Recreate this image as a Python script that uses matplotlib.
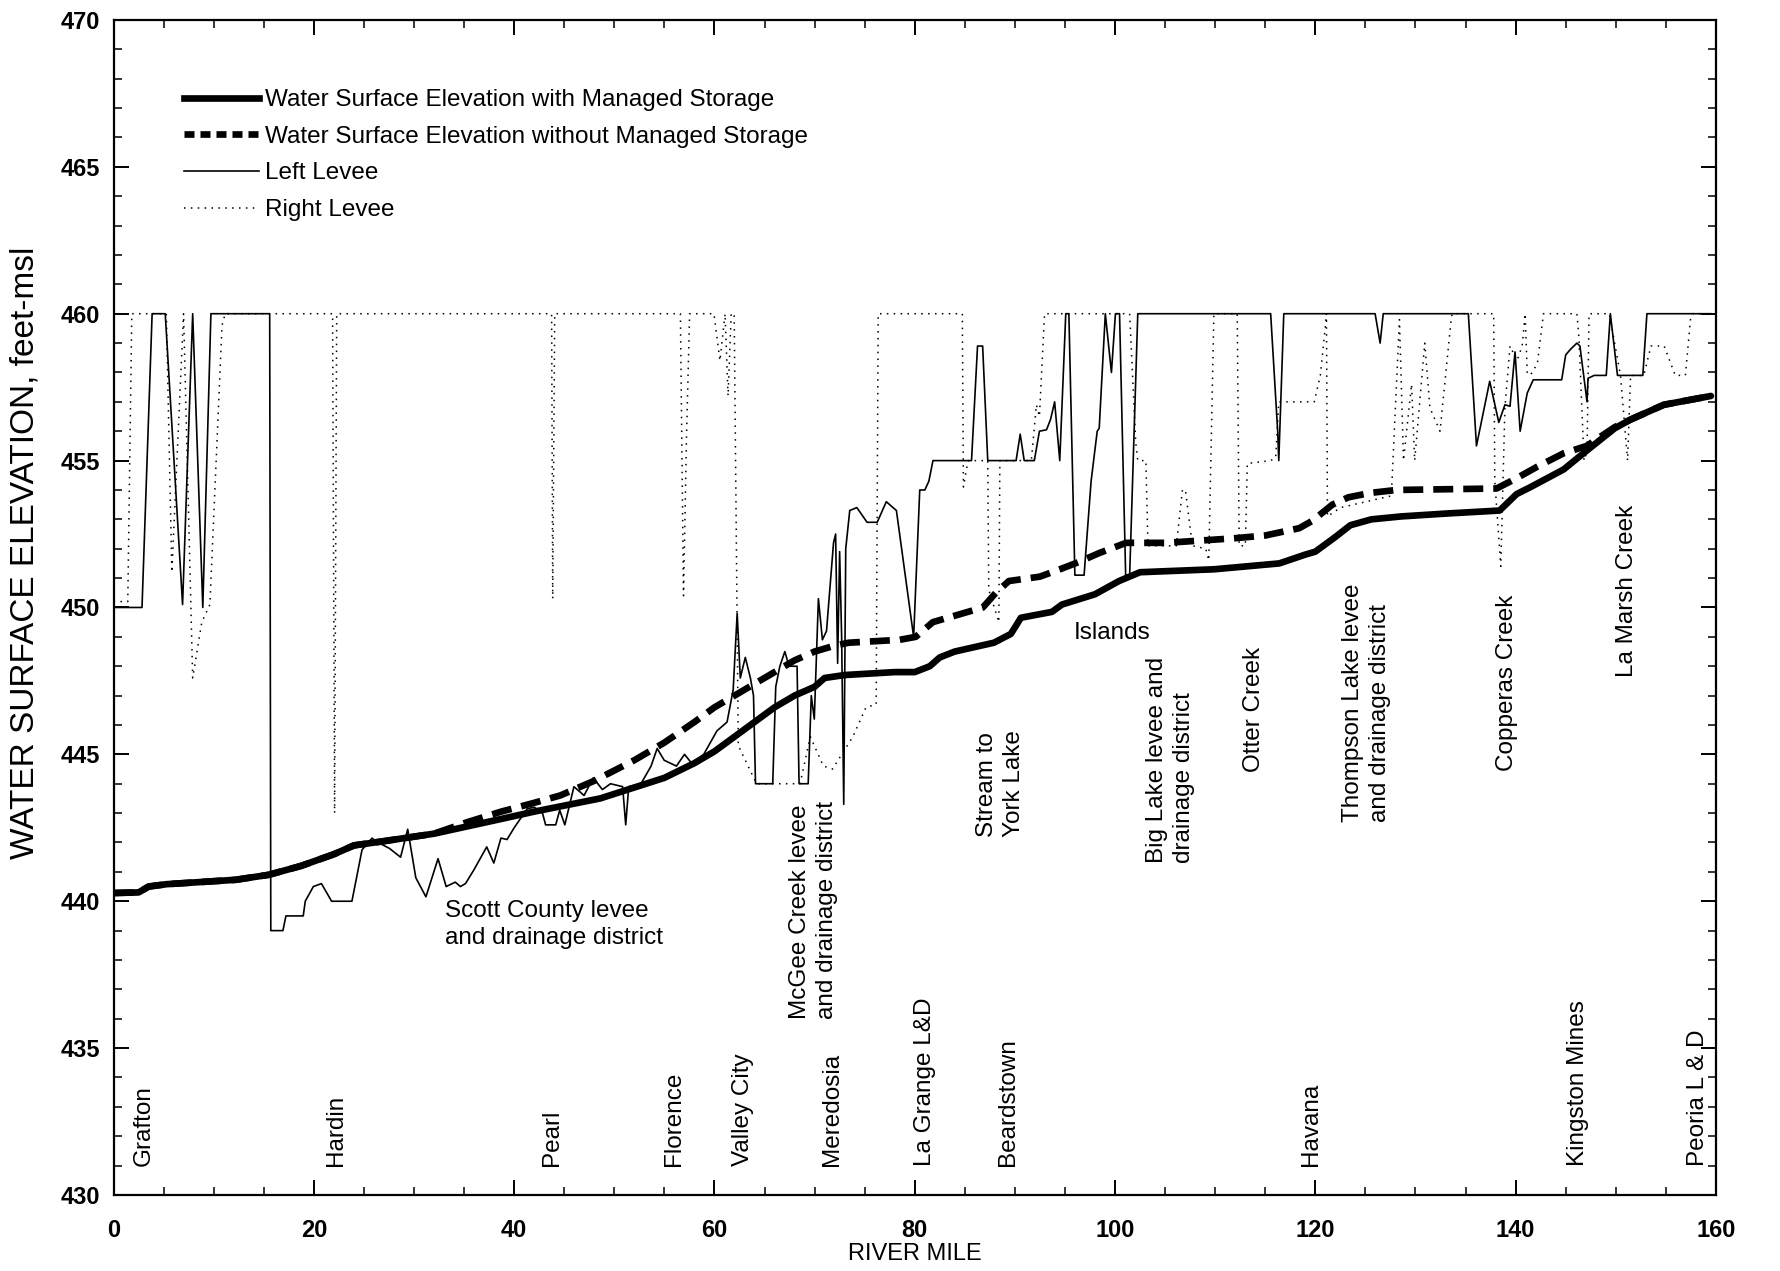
import matplotlib
matplotlib.use("Agg")
import matplotlib.pyplot as plt
from matplotlib.ticker import MultipleLocator
from matplotlib.lines import Line2D

plt.rcParams['font.family'] = ['Liberation Sans', 'DejaVu Sans']

# ---- water surface profiles (river mile, elevation ft-msl) ----
ws_with_mile = [0, 2.5, 3.5, 5.3, 12.2, 15.5, 18.7, 22.0, 24.0, 27.1, 32.0, 38.7, 42.0, 48.6,
                55.0, 58.0, 60.0, 62.0, 64.0, 66.0, 68.0, 70.0, 71.0, 73.0, 78.0, 80.0, 81.5,
                82.5, 84.0, 87.9, 89.6, 90.6, 93.7, 94.7, 98.0, 100.4, 102.5, 109.9, 116.4,
                119.0, 120.0, 122.0, 123.5, 125.6, 128.6, 133.2, 138.4, 140.1, 141.5, 144.8,
                147.1, 149.9, 151.5, 154.8, 159.5]
ws_with_elev = [440.28, 440.3, 440.5, 440.58, 440.73, 440.9, 441.2, 441.6, 441.9, 442.05,
                442.3, 442.8, 443.05, 443.5, 444.2, 444.7, 445.1, 445.6, 446.1, 446.6,
                447.0, 447.3, 447.6, 447.7, 447.8, 447.8, 448.0, 448.3, 448.5, 448.8,
                449.1, 449.65, 449.85, 450.1, 450.45, 450.9, 451.2, 451.3, 451.5, 451.8,
                451.9, 452.4, 452.8, 453.0, 453.1, 453.2, 453.3, 453.86, 454.1, 454.7,
                455.34, 456.1, 456.4, 456.9, 457.2]

ws_without_mile = [0, 2.5, 3.5, 5.3, 12.2, 15.5, 18.7, 22.0, 24.0, 27.1, 32.0, 35.4, 38.7,
                   42.0, 44.6, 48.0, 52.0, 55.0, 58.0, 60.0, 63.0, 66.0, 68.0, 70.0, 72.0,
                   73.4, 78.5, 80.1, 81.8, 83.8, 86.8, 88.1, 89.4, 92.5, 94.5, 96.4, 98.4,
                   101.1, 105.1, 111.7, 115.0, 118.4, 119.7, 121.7, 123.3, 125.5, 128.1,
                   138.1, 140.1, 142.2, 144.8, 147.1, 149.9, 151.5, 154.8, 159.5]
ws_without_elev = [440.28, 440.3, 440.5, 440.58, 440.73, 440.9, 441.2, 441.6, 441.9, 442.05,
                   442.3, 442.7, 443.05, 443.35, 443.6, 444.1, 444.8, 445.4, 446.1, 446.6,
                   447.2, 447.8, 448.2, 448.5, 448.7, 448.8, 448.9, 449.0, 449.5, 449.7,
                   450.0, 450.5, 450.9, 451.05, 451.3, 451.55, 451.85, 452.2, 452.2,
                   452.35, 452.45, 452.7, 452.95, 453.5, 453.75, 453.9, 454.0, 454.05,
                   454.4, 454.8, 455.25, 455.5, 456.14, 456.4, 456.9, 457.2]

# ---- levee crest profiles ----
left_levee_mile = [0, 2.84, 3.85, 5.16, 6.89, 7.9, 8.91, 9.72, 15.59, 15.7, 16.91, 17.21,
                   18.94, 19.14, 19.95, 20.76, 21.77, 23.8, 24.81, 25.82, 26.13, 27.54,
                   28.66, 29.37, 30.18, 31.19, 32.4, 33.21, 34.12, 34.63, 35.14, 35.95,
                   37.26, 37.97, 38.68, 39.29, 40.0, 40.71, 41.31, 42.02, 42.83, 43.14,
                   44.15, 44.55, 45.06, 45.97, 46.98, 47.9, 48.81, 49.62, 50.83, 51.14,
                   51.44, 52.66, 53.67, 54.28, 54.98, 56.2, 57.01, 57.72, 58.93, 60.25,
                   61.26, 61.87, 62.27, 62.58, 63.08, 63.59, 63.9, 64.1, 65.82, 66.12,
                   66.53, 67.03, 67.44, 68.25, 68.45, 69.36, 69.67, 69.97, 70.38, 70.78,
                   71.19, 71.89, 72.1, 72.3, 72.5, 72.7, 72.91, 73.11, 73.51, 74.22, 75.24,
                   76.25, 77.16, 78.17, 79.89, 80.5, 81.01, 81.41, 81.82, 85.67, 86.27,
                   86.78, 87.29, 90.12, 90.53, 90.93, 91.94, 92.45, 93.16, 93.56, 93.97,
                   94.48, 95.08, 95.39, 95.99, 96.91, 97.61, 98.22, 98.42, 99.03, 99.64,
                   100.04, 100.45, 101.06, 101.46, 102.27, 115.54, 116.24, 116.35, 116.85,
                   125.97, 126.47, 126.78, 135.28, 136.09, 137.41, 138.32, 138.93, 139.44,
                   139.94, 140.45, 141.16, 141.76, 144.6, 145.0, 145.51, 146.12, 146.42,
                   147.13, 147.23, 147.84, 149.05, 149.46, 150.17, 152.7, 153.11, 159.5]
left_levee_elev = [450, 450, 460, 460, 450.1, 460, 450, 460, 460, 439, 439, 439.5, 439.5, 440,
                   440.5, 440.6, 440.0, 440.0, 441.75, 442.15, 442.05, 441.8, 441.5, 442.45,
                   440.8, 440.15, 441.45, 440.5, 440.65, 440.5, 440.6, 441.05, 441.85, 441.3,
                   442.15, 442.1, 442.5, 442.85, 443.15, 443.2, 443.0, 442.6, 442.6, 443.1,
                   442.6, 443.9, 443.6, 444.2, 443.8, 444.0, 443.9, 442.6, 443.9, 444.0,
                   444.6, 445.2, 444.8, 444.6, 445.0, 444.7, 445.0, 445.8, 446.1, 447.2,
                   449.8, 447.6, 448.3, 447.6, 447.0, 444.0, 444.0, 447.3, 448.0, 448.5,
                   448.0, 448.0, 444.0, 444.0, 447.0, 446.2, 450.3, 448.9, 449.2, 452.2,
                   452.5, 448.1, 451.9, 449.0, 443.3, 452.0, 453.3, 453.4, 452.9, 452.9,
                   453.6, 453.3, 449.0, 454.0, 454.0, 454.3, 455.0, 455.0, 458.9, 458.9,
                   455.0, 455.0, 455.9, 455.0, 455.0, 456.0, 456.05, 456.4, 457.0, 455.0,
                   460, 460, 451.1, 451.1, 454.3, 456.0, 456.1, 460, 458, 460, 460, 451.1,
                   451.1, 460, 460, 456, 455, 460, 460, 459, 460, 460, 455.5, 457.7, 456.3,
                   456.9, 456.85, 458.7, 456.0, 457.3, 457.75, 457.75, 458.6, 458.8, 459.0,
                   458.9, 457.0, 457.8, 457.9, 457.9, 460, 457.9, 457.9, 460, 460]

right_levee_mile = [0, 1.42, 1.82, 5.27, 5.82, 6.99, 7.9, 8.81, 9.62, 10.83, 11.14, 21.87,
                    22.07, 22.28, 43.74, 43.85, 44.05, 56.6, 56.91, 57.21, 57.52, 59.95,
                    60.55, 61.06, 61.36, 61.67, 61.97, 62.38, 64.2, 68.55, 69.57, 70.88,
                    71.79, 73.82, 75.13, 76.15, 76.35, 84.75, 84.86, 85.16, 85.36, 87.29,
                    87.39, 88.4, 88.5, 91.64, 92.15, 92.45, 92.96, 101.46, 102.07, 102.27,
                    103.08, 103.29, 106.12, 106.73, 107.03, 107.54, 107.74, 109.06, 109.36,
                    109.87, 112.2, 112.4, 113.01, 113.21, 115.54, 116.04, 116.35, 119.89,
                    120.5, 121.01, 121.11, 121.21, 122.52, 127.59, 128.4, 128.8, 129.61,
                    129.92, 130.93, 131.44, 132.45, 133.56, 133.66, 137.81, 137.92, 138.52,
                    138.93, 139.44, 140.14, 140.65, 140.95, 141.16, 141.46, 142.17, 142.78,
                    146.12, 146.32, 146.83, 147.13, 147.33, 149.36, 150.47, 151.18, 151.48,
                    152.8, 153.51, 154.83, 155.94, 156.95, 157.46, 157.66, 159.5]
right_levee_elev = [450.2, 450.2, 460, 460, 451.2, 460, 447.6, 449.5, 450.1, 459.6, 460, 460,
                    443.0, 460, 460, 450.3, 460, 460, 450.4, 455.8, 460, 460, 458.4, 460,
                    457.2, 460, 460, 445.3, 444.0, 444.0, 445.6, 444.6, 444.5, 445.6, 446.6,
                    446.7, 460, 460, 454.1, 454.7, 455, 455, 450.6, 449.5, 455, 455, 456.9,
                    456.5, 460, 460, 455.6, 455, 455, 452.1, 452.1, 454.0, 454.0, 452.6,
                    452.1, 452.0, 451.6, 460, 460, 452.1, 452.1, 454.9, 455, 455.1, 457,
                    457, 457.9, 459.6, 460, 453.1, 453.4, 453.8, 459.8, 455, 457.6, 455,
                    459, 456.8, 456, 459.8, 460, 460, 454.3, 451.4, 456.8, 458.9, 458.4,
                    458.9, 460, 458, 457.9, 458.3, 460, 460, 459.2, 455, 455.3, 460, 460,
                    457.9, 455, 457.9, 457.9, 458.9, 458.9, 457.9, 457.9, 459.8, 460, 460]

# ---- place names along the river ----
town_names = ["Grafton", "Hardin", "Pearl", "Florence", "Valley City", "Meredosia",
              "La Grange L&D", "Beardstown", "Havana", "Kingston Mines", "Peoria L & D"]
town_miles = [3.0, 22.2, 43.8, 56.0, 62.9, 71.7, 81.0, 89.3, 119.6, 146.2, 158.2]

# ---- features: (text, mile, elevation where the text starts) ----
feature_names = ["McGee Creek levee\nand drainage district", "Stream to\nYork Lake",
                 "Big Lake levee and\ndrainage district", "Otter Creek",
                 "Thompson Lake levee\nand drainage district", "Copperas Creek",
                 "La Marsh Creek"]
feature_miles = [69.9, 88.6, 105.5, 113.9, 125.1, 139.1, 151.1]
feature_elev = [436.0, 442.2, 441.3, 444.4, 442.7, 444.45, 447.65]

TXT = 17.5

fig = plt.figure(figsize=(17.8, 12.71), dpi=100)
ax = fig.add_axes([0.0638, 0.0598, 0.9002, 0.9245])

ax.plot(right_levee_mile, right_levee_elev, color='black', lw=1.1,
        linestyle=(0, (1.0, 3.5)), zorder=2)
ax.plot(left_levee_mile, left_levee_elev, color='black', lw=1.2, zorder=3)
ax.plot(ws_without_mile, ws_without_elev, color='black', lw=4.8,
        linestyle=(0, (3.0, 1.5)), dash_capstyle='butt', zorder=4)
ax.plot(ws_with_mile, ws_with_elev, color='black', lw=4.8,
        solid_capstyle='round', zorder=5)

ax.set_xlim(0, 160)
ax.set_ylim(430, 470)
ax.xaxis.set_major_locator(MultipleLocator(20))
ax.xaxis.set_minor_locator(MultipleLocator(5))
ax.yaxis.set_major_locator(MultipleLocator(5))
ax.yaxis.set_minor_locator(MultipleLocator(1))
ax.tick_params(which='both', direction='in', top=True, right=True, color='black')
ax.tick_params(which='major', length=11, width=1.4)
ax.tick_params(which='minor', length=6, width=1.1)
ax.tick_params(axis='x', which='major', pad=17, labelsize=17)
ax.tick_params(axis='y', which='major', pad=10, labelsize=17)
for lab in ax.get_xticklabels() + ax.get_yticklabels():
    lab.set_fontweight('bold')
for sp in ax.spines.values():
    sp.set_linewidth(1.6)

fig.text(0.014, 0.565, 'WATER SURFACE ELEVATION, feet-msl', rotation=90,
         ha='center', va='center', fontsize=24)
fig.text(0.514, 0.0134, 'RIVER MILE', ha='center', va='center', fontsize=17)

handles = [
    Line2D([], [], color='black', lw=4.8),
    Line2D([], [], color='black', lw=4.8, linestyle=(0, (1.5, 0.9)), dash_capstyle='butt'),
    Line2D([], [], color='black', lw=1.2),
    Line2D([], [], color='black', lw=1.1, linestyle=(0, (1.0, 3.5))),
]
labels = ['Water Surface Elevation with Managed Storage',
          'Water Surface Elevation without Managed Storage',
          'Left Levee', 'Right Levee']
ax.legend(handles, labels, loc='upper left', bbox_to_anchor=(0.044, 0.941),
          frameon=False, fontsize=TXT, handlelength=3.1, handletextpad=0.25,
          labelspacing=0.6, borderpad=0, borderaxespad=0)

for name, mile in zip(town_names, town_miles):
    ax.text(mile, 431.0, name, rotation=90, ha='center', va='bottom', fontsize=TXT)

for name, mile, elev in zip(feature_names, feature_miles, feature_elev):
    ax.text(mile, elev, name, rotation=90, ha='center', va='bottom', fontsize=TXT,
            multialignment='left', linespacing=1.3)

ax.text(33.1, 440.05, "Scott County levee\nand drainage district", ha='left', va='top',
        fontsize=TXT, linespacing=1.3)
ax.text(99.7, 449.13, "Islands", ha='center', va='center', fontsize=TXT)

fig.savefig('out.png', dpi=100, facecolor='white')
